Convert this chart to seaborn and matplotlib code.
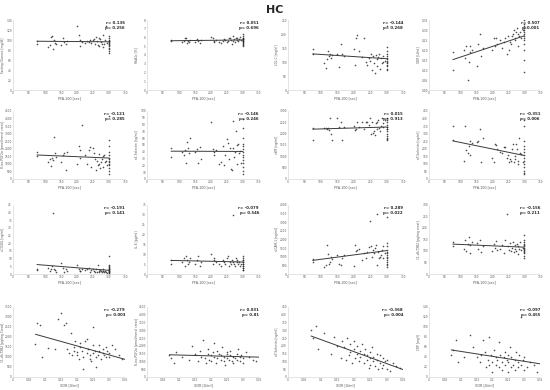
import numpy as np
import matplotlib
matplotlib.use("Agg")
import matplotlib.pyplot as plt
import seaborn as sns

sns.set_style("white")
plt.rcParams['font.family'] = ['DejaVu Sans']

# PFA-100 closure time (shared by rows 1-3), 300 = capped
pfa = [75, 76, 110, 115, 118, 122, 125, 128, 130, 135, 150, 155, 160, 165, 170,
       200, 205, 208, 210, 215, 225, 230, 238, 240, 245, 250, 252, 255, 260, 262,
       265, 268, 270, 272, 275, 278, 280, 282, 285, 288, 290, 295,
       300, 300, 300, 300, 300, 300, 300, 300, 300, 300, 300, 300, 300, 300]

# XDR (row 4)
xdr = [0.07, 0.075, 0.085, 0.09, 0.11, 0.13, 0.14, 0.15, 0.16, 0.165, 0.17, 0.175,
       0.18, 0.185, 0.19, 0.19, 0.195, 0.2, 0.2, 0.205, 0.21, 0.21, 0.215, 0.22,
       0.22, 0.225, 0.23, 0.23, 0.235, 0.24, 0.24, 0.245, 0.25, 0.25, 0.25, 0.255,
       0.26, 0.26, 0.265, 0.27, 0.27, 0.275, 0.28, 0.28, 0.285, 0.29, 0.29, 0.295,
       0.3, 0.3, 0.31, 0.32, 0.33, 0.34, 0.36, 0.37]

glucose = [98, 92, 86, 90, 106, 108, 83, 100, 95, 93, 91, 104, 96, 92, 98, 128, 110, 100, 89, 96,
           94, 99, 97, 101, 95, 100, 103, 92, 107, 98, 90, 105, 88, 102, 96, 93, 87, 110, 92, 101,
           128, 95, 108, 104, 100, 98, 96, 94, 92, 90, 88, 85, 82, 78, 75, 99]
hba1c = [5.7, 5.6, 5.5, 5.6, 5.9, 6.0, 5.4, 5.6, 5.5, 5.7, 5.5, 5.8, 5.6, 5.4, 5.7, 6.1, 6.0, 5.5,
         5.6, 5.7, 5.5, 5.4, 5.6, 5.8, 5.7, 5.5, 5.6, 6.0, 5.9, 5.7, 5.3, 6.2, 5.6, 5.8, 5.5, 5.9,
         5.7, 6.0, 5.6, 5.8, 6.1, 5.7, 6.4, 6.2, 6.0, 5.9, 5.8, 5.7, 5.6, 5.6, 5.5, 5.4, 5.3, 5.2,
         5.0, 5.8]
ldl = [145, 130, 95, 80, 110, 140, 120, 130, 115, 125, 128, 82, 165, 130, 120, 145, 88, 185, 195,
       140, 118, 185, 100, 90, 115, 105, 128, 70, 120, 95, 60, 125, 85, 110, 118, 130, 75, 115, 95,
       100, 120, 105, 230, 155, 140, 130, 120, 115, 110, 105, 100, 95, 90, 85, 75, 70]
xdr_y = [0.10, 0.19, 0.20, 0.16, 0.22, 0.05, 0.14, 0.22, 0.19, 0.20, 0.12, 0.23, 0.28, 0.17, 0.21,
         0.20, 0.26, 0.22, 0.26, 0.23, 0.25, 0.21, 0.24, 0.26, 0.18, 0.27, 0.20, 0.24, 0.23, 0.27,
         0.28, 0.30, 0.26, 0.25, 0.29, 0.31, 0.22, 0.28, 0.27, 0.29, 0.26, 0.30, 0.35, 0.33, 0.32,
         0.31, 0.30, 0.29, 0.28, 0.27, 0.26, 0.25, 0.23, 0.20, 0.15, 0.09]
iso = [1800, 1500, 1100, 1300, 850, 1400, 1250, 2800, 1700, 1450, 1100, 1600, 1750, 600, 1800,
       1000, 2200, 1950, 1400, 3600, 1600, 1000, 1900, 2100, 800, 2050, 1700, 1300, 600, 1200, 900,
       1650, 1000, 700, 1150, 1350, 800, 1500, 1600, 1100, 1200, 950, 4200, 2600, 2200, 1800, 1600,
       1400, 1300, 1200, 1100, 1000, 900, 700, 500, 300]
esel = [32, 45, 40, 35, 42, 23, 55, 46, 38, 61, 40, 44, 23, 47, 30, 84, 44, 36, 39, 43, 22, 25, 48,
        20, 35, 59, 53, 30, 46, 14, 13, 85, 45, 32, 40, 70, 22, 50, 52, 38, 41, 24, 88, 75, 60, 52,
        48, 44, 40, 36, 32, 28, 24, 18, 12, 8]
p7 = [1700, 2250, 2250, 2260, 2200, 2250, 2150, 2700, 2000, 1700, 2700, 2300, 2500, 1700, 2300,
      2350, 2150, 2200, 2500, 2300, 2500, 2200, 2500, 2500, 2400, 2700, 2000, 2500, 2050, 2100,
      1950, 2450, 2500, 2200, 2600, 2250, 2100, 2350, 2700, 2300, 2450, 2600, 2700, 2600, 2500,
      2400, 2300, 2300, 2200, 2200, 2100, 2000, 1900, 1800, 1750, 1700]
psel = [350, 260, 120, 350, 190, 170, 220, 250, 160, 240, 245, 250, 330, 110, 270, 140, 110, 230,
        225, 200, 180, 175, 210, 210, 140, 160, 110, 130, 120, 200, 230, 110, 130, 150, 230, 200,
        100, 120, 270, 170, 165, 110, 390, 350, 250, 220, 200, 180, 160, 140, 120, 100, 80, 50, 40, 30]
cd40 = [3, 2.5, 4, 2, 3, 5, 40, 3, 2.5, 1.5, 7, 4, 1, 3.5, 2, 6, 3.5, 2, 2, 3, 2.5, 3, 4, 1.5, 2.5,
        3, 2, 1, 3.5, 1.5, 6, 2, 1.5, 2.5, 2, 1, 2, 3, 1, 2, 1.5, 0.5, 12, 6, 5, 4.5, 4, 3.5, 3, 2.5,
        2, 1.5, 1, 0.5, 0.3, 2]
il6 = [7, 5, 6, 8, 4, 9, 7, 5, 6, 8, 5, 7, 9, 4, 6, 10, 5, 7, 8, 6, 5, 4, 7, 6, 5, 8, 9, 4, 6, 5, 7,
       30, 6, 5, 4, 8, 6, 7, 5, 6, 4, 5, 9, 8, 7, 7, 6, 6, 5, 5, 4, 4, 3, 3, 2, 2]
icam = [850, 700, 400, 500, 1700, 1150, 600, 700, 1000, 850, 1100, 600, 550, 900, 1100, 450, 1700,
        1350, 1400, 1450, 800, 1200, 900, 1300, 1550, 3100, 1600, 1000, 1400, 1200, 1500, 1700, 550,
        3500, 1300, 900, 1000, 1100, 1400, 900, 1600, 1200, 3300, 1800, 1600, 1400, 1300, 1200,
        1100, 1000, 900, 800, 700, 600, 500, 400]
txb = [140, 120, 110, 150, 100, 130, 160, 125, 90, 140, 135, 110, 150, 95, 120, 100, 130, 115,
       145, 105, 110, 125, 90, 150, 260, 120, 105, 135, 100, 115, 140, 95, 110, 125, 100, 130, 120,
       85, 110, 140, 105, 115, 170, 150, 140, 130, 125, 120, 115, 110, 105, 100, 95, 90, 80, 70]
txb_x = [1650, 2700, 2600, 1000, 1450, 1400, 2900, 3200, 2600, 2700, 1400, 1200, 2200, 1100, 1500,
         1300, 1800, 1100, 1250, 900, 1500, 1700, 1300, 1000, 400, 1800, 1900, 1200, 1400, 1100,
         900, 800, 2500, 1200, 1600, 1300, 1000, 500, 1100, 1300, 1600, 900, 1400, 1200, 1100, 1000,
         1500, 1300, 1000, 1200, 1600, 1400, 1100, 900, 800, 700]
iso_x = [1400, 1200, 900, 1600, 1300, 1100, 2000, 1500, 1000, 1700, 1300, 2400, 1200, 900, 1500,
         1800, 1100, 1400, 1000, 1600, 2200, 1300, 900, 1700, 1200, 1500, 1100, 1400, 1900, 1000,
         1300, 800, 1600, 1200, 1500, 1100, 1400, 1700, 1000, 1300, 900, 1200, 1500, 1100, 1800,
         1300, 1000, 1400, 1200, 900, 1600, 1300, 1100, 1000, 1400, 1500]
psel_x = [300, 250, 330, 180, 280, 150, 260, 200, 120, 230, 190, 110, 250, 140, 210, 160, 90, 180,
          230, 120, 150, 200, 100, 170, 130, 210, 90, 150, 180, 110, 140, 60, 160, 120, 80, 190,
          100, 130, 70, 150, 110, 50, 140, 90, 60, 120, 80, 100, 50, 110, 40, 90, 70, 60, 80, 50]
crp_x = [45, 55, 75, 30, 40, 85, 60, 40, 30, 45, 75, 50, 20, 35, 80, 25, 45, 10, 30, 55, 40, 25,
         35, 70, 20, 45, 30, 15, 40, 50, 25, 35, 10, 45, 30, 60, 20, 40, 25, 35, 15, 50, 30, 20, 45,
         120, 25, 35, 15, 40, 20, 30, 25, 10, 35, 20]

# panels: (x data, y data, y label, y max, y step, r, p)
panels = [
    (pfa, glucose, "Fasting Glucose [mg/dl]", 140, 20, "r= 0.136", "p= 0.256"),
    (pfa, hba1c, "HbA1c [%]", 8, 1, "r= 0.051", "p= 0.696"),
    (pfa, ldl, "LDL-C [mg/dl]", 250, 50, "r= -0.144", "p= 0.268"),
    (pfa, xdr_y, "XDR [U/ml]", 0.35, 0.05, "r= 0.507", "p<0.001"),
    (pfa, iso, "8-iso-PGF2α [pmol/mmol creat]", 4500, 500, "r= -0.121", "p= 0.285"),
    (pfa, esel, "sE-Selectin [ng/ml]", 100, 10, "r= -0.146", "p= 0.246"),
    (pfa, p7, "vWF [ng/ml]", 3000, 500, "r= 0.015", "p= 0.913"),
    (pfa, psel, "sP-Selectin [ng/ml]", 450, 50, "r= -0.351", "p= 0.006"),
    (pfa, cd40, "sCD40L [ng/ml]", 45, 5, "r= -0.191", "p= 0.141"),
    (pfa, il6, "IL-6 [pg/ml]", 35, 5, "r= -0.079", "p= 0.546"),
    (pfa, icam, "sICAM-1 [ng/ml]", 4000, 500, "r= 0.289", "p= 0.022"),
    (pfa, txb, "11-dh-TXB2 [pg/mg creat]", 300, 50, "r= -0.156", "p= 0.211"),
    (xdr, txb_x, "11-dh-TXB2 [pg/mg Creat]", 3500, 500, "r= -0.279", "p= 0.003"),
    (xdr, iso_x, "8-iso-PGF2α [pmol/mmol creat]", 4500, 500, "r= 0.031", "p= 0.81"),
    (xdr, psel_x, "sP-Selectin [ng/ml]", 450, 50, "r= -0.368", "p= 0.004"),
    (xdr, crp_x, "CRP [mg/l]", 140, 20, "r= -0.097", "p= 0.455"),
]

W, H = 550, 390
col_l = [13, 147, 288, 429]
col_r = [125, 259, 403, 540]
row_t = [20, 111, 205, 307]
row_b = [90, 179, 274, 377]

fig = plt.figure(figsize=(5.5, 3.9), dpi=100)
fig.text(0.5, 1 - 10 / H, "HC", ha="center", va="center", fontsize=8, fontweight="bold")

for i, (xs, ys, ylab, ymax, ystep, rtxt, ptxt) in enumerate(panels):
    r, c = divmod(i, 4)
    l, rr, t, b = col_l[c], col_r[c], row_t[r], row_b[r]
    ax = fig.add_axes([l / W, 1 - b / H, (rr - l) / W, (b - t) / H])
    sns.regplot(x=np.array(xs), y=np.array(ys), ax=ax, ci=None, truncate=True,
                scatter_kws=dict(s=1.4, color="#222222", linewidths=0),
                line_kws=dict(color="#3a3a3a", lw=0.7))
    if r < 3:
        ax.set_xlim(0, 350)
        ax.set_xticks(np.arange(0, 351, 50))
        ax.set_xlabel("PFA-100 [sec]", fontsize=2.4, color="#595959", labelpad=1)
    else:
        ax.set_xlim(0, 0.35)
        ax.set_xticks(np.round(np.arange(0, 0.351, 0.05), 2))
        ax.set_xticklabels(["0", "0.05", "0.1", "0.15", "0.2", "0.25", "0.3", "0.35"])
        ax.set_xlabel("XDR [U/ml]", fontsize=2.4, color="#595959", labelpad=1)
    ax.set_ylim(0, ymax)
    ax.set_yticks(np.arange(0, ymax + ystep / 2, ystep))
    ax.set_ylabel(ylab, fontsize=2.2, color="#595959")
    ax.yaxis.set_label_coords(-0.075, 0.5)
    ax.tick_params(labelsize=2.1, colors="#595959", length=0, pad=0.8)
    sns.despine(ax=ax)
    for s in ["left", "bottom"]:
        ax.spines[s].set_color("#d9d9d9")
        ax.spines[s].set_linewidth(0.5)
    ax.text(1.0, 0.98, rtxt + "\n" + ptxt, transform=ax.transAxes, ha="right", va="top",
            fontsize=2.8, fontweight="bold", linespacing=1.3)

fig.savefig("out.png", dpi=100)
